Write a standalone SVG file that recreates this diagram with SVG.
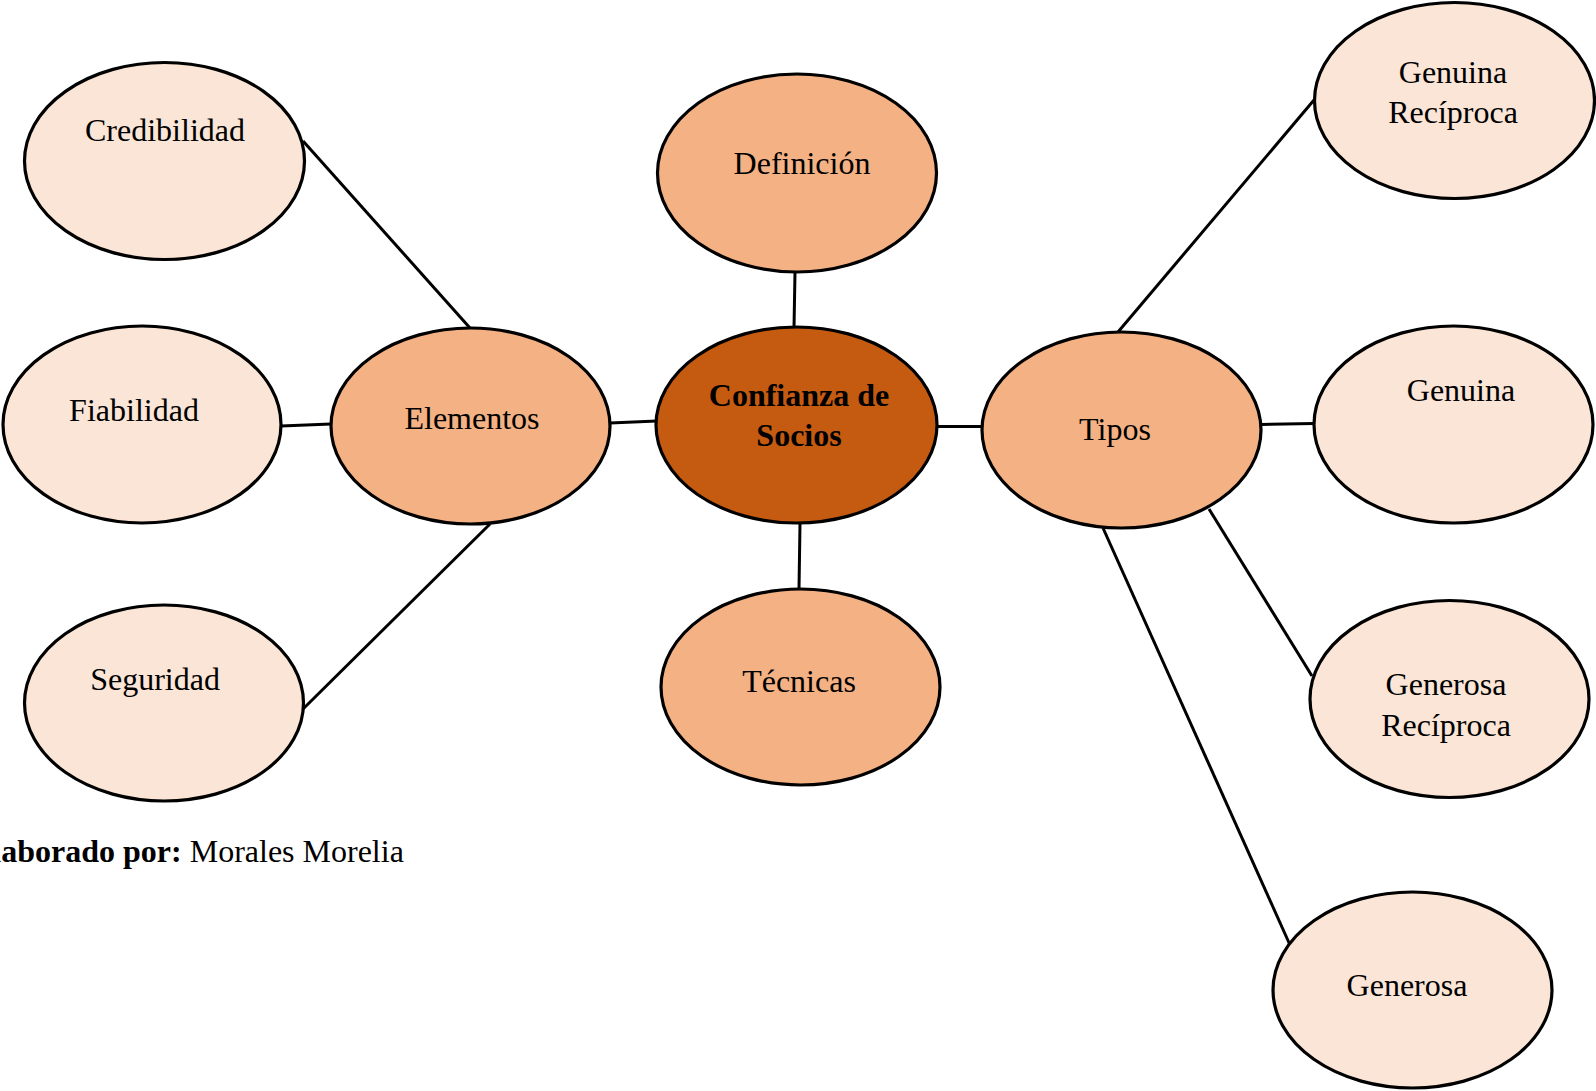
<svg xmlns="http://www.w3.org/2000/svg" width="1596" height="1091" viewBox="0 0 1596 1091">
<style>
.n ellipse{stroke:#000;stroke-width:3.2}
.l1{fill:#FBE5D6}
.l2{fill:#F4B183}
.l3{fill:#C55A11}
text{font-family:"Liberation Serif","Times New Roman",serif;font-size:32px;fill:#000;text-anchor:middle}
.b{font-weight:bold}
#edges line{stroke:#000;stroke-width:3}
</style>
<rect width="1596" height="1091" fill="#fff"/>
<g id="edges">
<line x1="303" y1="141" x2="470" y2="328"/>
<line x1="281" y1="426" x2="331" y2="424"/>
<line x1="303" y1="709" x2="490" y2="524"/>
<line x1="610" y1="423" x2="657" y2="421"/>
<line x1="795" y1="272" x2="794" y2="328"/>
<line x1="800" y1="524" x2="799" y2="589"/>
<line x1="936" y1="426.5" x2="982" y2="426.5"/>
<line x1="1118" y1="332" x2="1314" y2="100"/>
<line x1="1261" y1="424.5" x2="1314" y2="423.5"/>
<line x1="1209" y1="509" x2="1312" y2="676"/>
<line x1="1103" y1="528" x2="1290" y2="945"/>
</g>
<g id="credibilidad" class="n"><ellipse class="l1" cx="164.5" cy="161" rx="140" ry="98.5"/><text x="165" y="141">Credibilidad</text></g>
<g id="fiabilidad" class="n"><ellipse class="l1" cx="142" cy="424.5" rx="139" ry="98.5"/><text x="134" y="421">Fiabilidad</text></g>
<g id="seguridad" class="n"><ellipse class="l1" cx="164" cy="703" rx="139.5" ry="98"/><text x="155" y="690">Seguridad</text></g>
<g id="elementos" class="n"><ellipse class="l2" cx="470.5" cy="426" rx="139.5" ry="98"/><text x="472" y="429">Elementos</text></g>
<g id="definicion" class="n"><ellipse class="l2" cx="797" cy="173" rx="139.5" ry="99"/><text x="802" y="174">Definición</text></g>
<g id="confianza" class="n"><ellipse class="l3" cx="796.5" cy="425" rx="140.5" ry="98"/><text class="b" x="799" y="406">Confianza de</text><text class="b" x="799" y="446">Socios</text></g>
<g id="tecnicas" class="n"><ellipse class="l2" cx="800.5" cy="687" rx="139.5" ry="98"/><text x="799" y="692">Técnicas</text></g>
<g id="tipos" class="n"><ellipse class="l2" cx="1121.5" cy="430" rx="139.5" ry="98"/><text x="1115" y="440">Tipos</text></g>
<g id="genuina-reciproca" class="n"><ellipse class="l1" cx="1454.5" cy="100.5" rx="140" ry="98"/><text x="1453" y="83">Genuina</text><text x="1453" y="123">Recíproca</text></g>
<g id="genuina" class="n"><ellipse class="l1" cx="1453.5" cy="424.5" rx="139.5" ry="98.5"/><text x="1461" y="401">Genuina</text></g>
<g id="generosa-reciproca" class="n"><ellipse class="l1" cx="1449.5" cy="699" rx="139.5" ry="98.5"/><text x="1446" y="695">Generosa</text><text x="1446" y="736">Recíproca</text></g>
<g id="generosa" class="n"><ellipse class="l1" cx="1412.5" cy="990" rx="139.5" ry="98"/><text x="1407" y="996">Generosa</text></g>
<text x="-29" y="862" style="text-anchor:start"><tspan class="b">Elaborado por:</tspan> Morales Morelia</text>
</svg>
